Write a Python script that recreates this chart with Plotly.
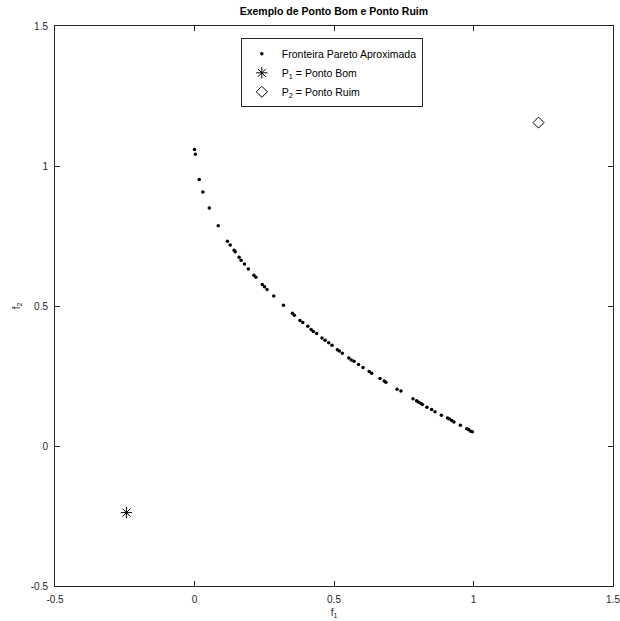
import plotly.graph_objects as go

# Approximate Pareto front (f1, f2)
front_f1 = [0.000, 0.003, 0.017, 0.030, 0.053, 0.085, 0.118, 0.128, 0.142, 0.146,
            0.160, 0.167, 0.179, 0.193, 0.213, 0.220, 0.243, 0.251, 0.260, 0.284,
            0.319, 0.351, 0.358, 0.378, 0.388, 0.406, 0.418, 0.426, 0.438, 0.457,
            0.468, 0.481, 0.493, 0.512, 0.519, 0.530, 0.553, 0.562, 0.572, 0.588,
            0.604, 0.626, 0.635, 0.665, 0.680, 0.686, 0.726, 0.740, 0.783, 0.796,
            0.802, 0.811, 0.817, 0.833, 0.850, 0.862, 0.885, 0.907, 0.914, 0.922,
            0.930, 0.953, 0.976, 0.982, 0.990, 0.996]
front_f2 = [1.059, 1.042, 0.952, 0.907, 0.850, 0.787, 0.731, 0.718, 0.699, 0.694,
            0.674, 0.663, 0.650, 0.632, 0.610, 0.603, 0.577, 0.569, 0.559, 0.536,
            0.503, 0.474, 0.467, 0.448, 0.441, 0.428, 0.416, 0.409, 0.402, 0.386,
            0.378, 0.369, 0.360, 0.344, 0.339, 0.331, 0.314, 0.307, 0.303, 0.291,
            0.280, 0.266, 0.260, 0.241, 0.232, 0.228, 0.203, 0.196, 0.169, 0.162,
            0.157, 0.153, 0.148, 0.138, 0.130, 0.122, 0.110, 0.100, 0.096, 0.091,
            0.086, 0.074, 0.062, 0.059, 0.053, 0.051]

# Good point P1 and bad point P2
p1 = [-0.244, -0.238]
p2 = [1.233, 1.155]

tick_vals = [-0.5, 0, 0.5, 1, 1.5]
tick_text = ["-0.5", "0", "0.5", "1", "1.5"]

FONT = "Liberation Sans, Arial, sans-serif"
AX = "#262626"

fig = go.Figure()
fig.add_trace(go.Scatter(
    x=front_f1, y=front_f2, mode="markers",
    name="Fronteira Pareto Aproximada",
    marker=dict(symbol="circle", size=3.5, color="black"),
))
fig.add_trace(go.Scatter(
    x=[p1[0]], y=[p1[1]], mode="markers",
    name="P<sub>1</sub> = Ponto Bom",
    marker=dict(symbol="asterisk-open", size=9.5, color="black",
                line=dict(color="black", width=1)),
))
fig.add_trace(go.Scatter(
    x=[p2[0]], y=[p2[1]], mode="markers",
    name="P<sub>2</sub> = Ponto Ruim",
    marker=dict(symbol="diamond-open", size=8.5, color="black",
                line=dict(color="black", width=1)),
))

axis_common = dict(
    tickvals=tick_vals, ticktext=tick_text,
    ticks="inside", ticklen=5, tickwidth=1, tickcolor=AX,
    showline=True, linecolor=AX, linewidth=1, mirror="allticks",
    showgrid=False, zeroline=False,
    tickfont=dict(family=FONT, size=10, color=AX),
    ticklabeloverflow="allow",
    automargin=False,
    fixedrange=True,
)

fig.update_xaxes(range=[-0.5, 1.5], ticklabelstandoff=4,
                 title=dict(text="f<sub>1</sub>", font=dict(family=FONT, size=10, color=AX),
                            standoff=4),
                 **axis_common)
fig.update_yaxes(range=[-0.5, 1.5], ticklabelstandoff=4,
                 title=dict(text="f<sub>2</sub>", font=dict(family=FONT, size=10, color=AX),
                            standoff=8),
                 **axis_common)

fig.update_layout(
    width=620, height=621,
    margin=dict(l=55, r=7, t=26, b=35),
    paper_bgcolor="white", plot_bgcolor="white",
    font=dict(family=FONT, size=10, color="black"),
    title=dict(text="<b>Exemplo de Ponto Bom e Ponto Ruim</b>",
               x=0.5385, xanchor="center", y=0.981, yanchor="middle", yref="container",
               font=dict(family=FONT, size=10.5, color="black")),
    legend=dict(x=0.333, y=0.978, xanchor="left", yanchor="top",
                bgcolor="white", bordercolor=AX, borderwidth=1,
                font=dict(family=FONT, size=10.5, color="black"),
                tracegroupgap=0),
    showlegend=True,
)

fig.write_html("out.html")
